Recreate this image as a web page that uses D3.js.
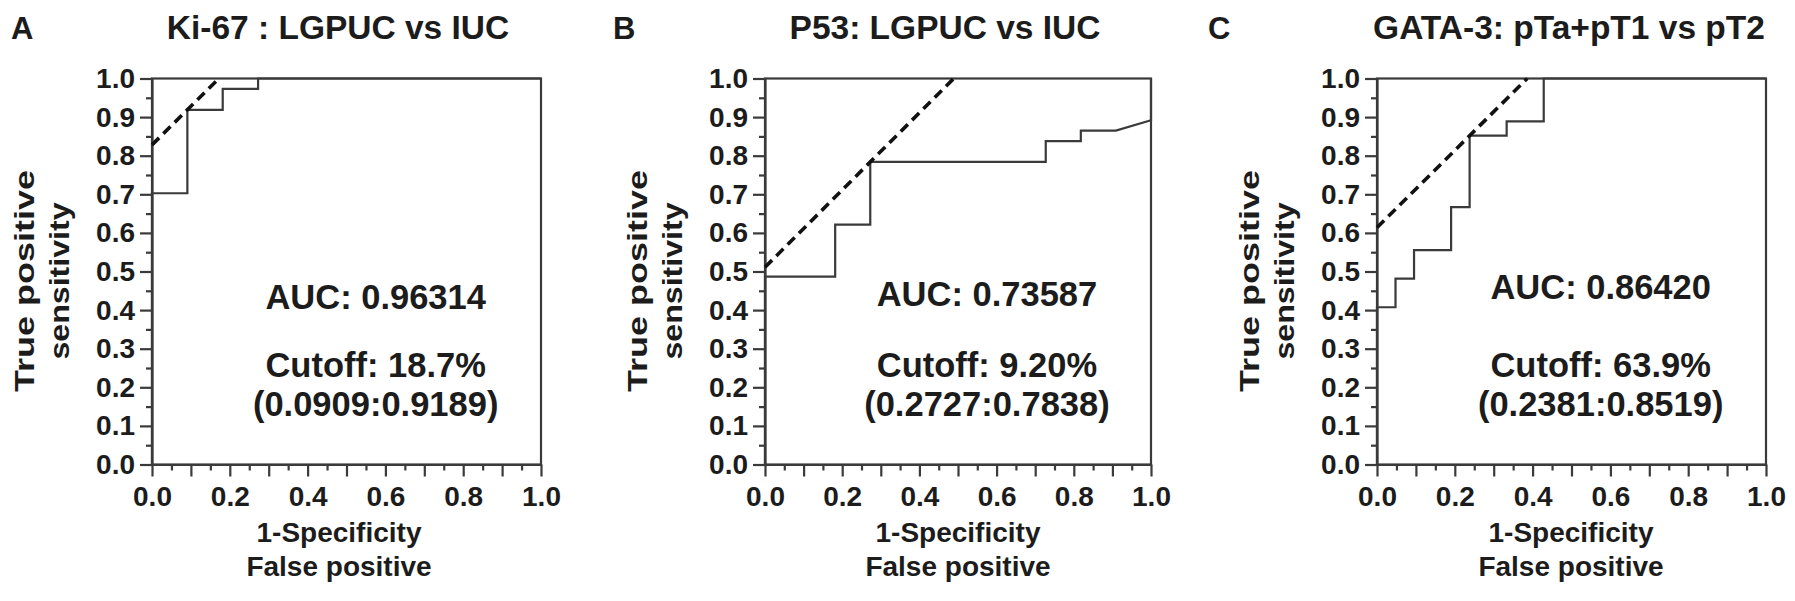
<!DOCTYPE html>
<html>
<head>
<meta charset="utf-8">
<script src="https://cdn.jsdelivr.net/npm/d3@7"></script>
<style>
  html, body { margin: 0; padding: 0; background: #fff; }
  svg { display: block; }
  text { font-family: "Liberation Sans", Arial, sans-serif; font-weight: bold; fill: #1c1c1c; }
</style>
</head>
<body>
<svg id="chart" width="1795" height="601"></svg>
<script>
// ---------------- DATA ----------------
const panelLetters = ["A", "B", "C"];
const panelTitles = ["Ki-67 : LGPUC vs IUC", "P53: LGPUC vs IUC", "GATA-3: pTa+pT1 vs pT2"];

// ROC curve points (1-specificity, sensitivity)
const rocA_fpr = [0, 0, 0.0909, 0.0909, 0.1818, 0.1818, 0.2727, 0.2727, 1.0];
const rocA_tpr = [0, 0.7027, 0.7027, 0.9189, 0.9189, 0.9730, 0.9730, 1.0, 1.0];

const rocB_fpr = [0, 0, 0.1818, 0.1818, 0.2727, 0.2727, 0.7273, 0.7273, 0.8182, 0.8182, 0.9091, 1.0, 1.0];
const rocB_tpr = [0, 0.4865, 0.4865, 0.6216, 0.6216, 0.7838, 0.7838, 0.8378, 0.8378, 0.8649, 0.8649, 0.8919, 1.0];

const rocC_fpr = [0, 0, 0.0476, 0.0476, 0.0952, 0.0952, 0.1905, 0.1905, 0.2381, 0.2381, 0.3333, 0.3333, 0.4286, 0.4286, 1.0];
const rocC_tpr = [0, 0.4074, 0.4074, 0.4815, 0.4815, 0.5556, 0.5556, 0.6667, 0.6667, 0.8519, 0.8519, 0.8889, 0.8889, 1.0, 1.0];

// optimal cut-off points (1-specificity : sensitivity)
const cutoffFpr = [0.0909, 0.2727, 0.2381];
const cutoffTpr = [0.9189, 0.7838, 0.8519];

const aucLabels = ["AUC: 0.96314", "AUC: 0.73587", "AUC: 0.86420"];
const cutoffLabels = ["Cutoff: 18.7%", "Cutoff: 9.20%", "Cutoff: 63.9%"];
const pairLabels = ["(0.0909:0.9189)", "(0.2727:0.7838)", "(0.2381:0.8519)"];

const majorTicks = [0, 0.1, 0.2, 0.3, 0.4, 0.5, 0.6, 0.7, 0.8, 0.9, 1.0];
const minorTicks = [0.05, 0.15, 0.25, 0.35, 0.45, 0.55, 0.65, 0.75, 0.85, 0.95];
const xTitleLines = ["1-Specificity", "False positive"];
const yTitleLines = ["True positive", "sensitivity"];

// ---------------- LAYOUT ----------------
const rocs = [
  { fpr: rocA_fpr, tpr: rocA_tpr },
  { fpr: rocB_fpr, tpr: rocB_tpr },
  { fpr: rocC_fpr, tpr: rocC_tpr }
];
const layout = [
  { left: 152, right: 541, titleX: 338, letterX: 11, xTitleX: 339, aucY: 309 },
  { left: 765, right: 1151, titleX: 945, letterX: 613, xTitleX: 958, aucY: 306 },
  { left: 1377, right: 1766, titleX: 1569, letterX: 1208, xTitleX: 1571, aucY: 299 }
];
const yTitleLengths = [222, 157];
const plotTop = 78.5, plotBottom = 464.5;
const lineColor = "#3a3a3a";

const svg = d3.select("#chart");
const fmt = d3.format(".1f");

layout.forEach((L, i) => {
  const x = d3.scaleLinear().domain([0, 1]).range([L.left, L.right]);
  const y = d3.scaleLinear().domain([0, 1]).range([plotBottom, plotTop]);
  const g = svg.append("g");

  // panel letter and title
  g.append("text").attr("x", L.letterX).attr("y", 39)
    .attr("font-size", 31).text(panelLetters[i]);
  g.append("text").attr("x", L.titleX).attr("y", 39)
    .attr("text-anchor", "middle").attr("font-size", 33.5).text(panelTitles[i]);

  // frame
  g.append("rect")
    .attr("x", x(0)).attr("y", y(1))
    .attr("width", x(1) - x(0)).attr("height", y(0) - y(1))
    .attr("fill", "none").attr("stroke", lineColor).attr("stroke-width", 2.2);

  // y axis
  const yAx = g.append("g").attr("transform", `translate(${x(0)},0)`)
    .call(d3.axisLeft(y).tickValues(majorTicks).tickSize(12).tickSizeOuter(0)
      .tickPadding(5).tickFormat(fmt));
  const yMin = g.append("g").attr("transform", `translate(${x(0)},0)`)
    .call(d3.axisLeft(y).tickValues(minorTicks).tickSize(6).tickFormat(""));
  yMin.select(".domain").remove();

  // x axis
  const xAx = g.append("g").attr("transform", `translate(0,${y(0)})`)
    .call(d3.axisBottom(x).tickValues(majorTicks).tickSize(12).tickSizeOuter(0)
      .tickPadding(10).tickFormat(d => (Math.round(d * 10) % 2 === 0 ? fmt(d) : "")));
  const xMin = g.append("g").attr("transform", `translate(0,${y(0)})`)
    .call(d3.axisBottom(x).tickValues(minorTicks).tickSize(6).tickFormat(""));
  xMin.select(".domain").remove();

  [yAx, yMin, xAx, xMin].forEach(a => {
    a.selectAll("path, line").attr("stroke", lineColor).attr("stroke-width", 2.2);
    a.selectAll("text").attr("font-size", 28).attr("fill", "#1c1c1c")
      .attr("font-family", "'Liberation Sans', Arial, sans-serif").attr("font-weight", "bold");
  });

  // ROC curve
  const pts = rocs[i].fpr.map((f, k) => [f, rocs[i].tpr[k]]);
  g.append("path").datum(pts)
    .attr("d", d3.line().x(d => x(d[0])).y(d => y(d[1])))
    .attr("fill", "none").attr("stroke", lineColor).attr("stroke-width", 2.2)
    .attr("stroke-linejoin", "miter");

  // tangent (Youden) dashed line through the cut-off point
  const b = cutoffTpr[i] - cutoffFpr[i];
  g.append("line")
    .attr("x1", x(0)).attr("y1", y(b))
    .attr("x2", x(1 - b)).attr("y2", y(1))
    .attr("stroke", "#111").attr("stroke-width", 3.6).attr("stroke-dasharray", "10,6");

  // annotations
  const cx = x(0.575);
  g.append("text").attr("x", cx).attr("y", L.aucY).attr("text-anchor", "middle")
    .attr("font-size", 34.5).text(aucLabels[i]);
  g.append("text").attr("x", cx).attr("y", 377).attr("text-anchor", "middle")
    .attr("font-size", 34.5).text(cutoffLabels[i]);
  g.append("text").attr("x", cx).attr("y", 416).attr("text-anchor", "middle")
    .attr("font-size", 34.5).text(pairLabels[i]);

  // axis titles
  xTitleLines.forEach((t, k) => {
    g.append("text").attr("x", L.xTitleX).attr("y", 542 + k * 34)
      .attr("text-anchor", "middle").attr("font-size", 28).text(t);
  });
  const yMid = 281;
  yTitleLines.forEach((t, k) => {
    const cxT = x(0) - 127.5 + k * 34.5;
    g.append("text")
      .attr("transform", `translate(${cxT},${yMid}) rotate(-90)`)
      .attr("text-anchor", "middle").attr("dy", "0.35em")
      .attr("font-size", 28)
      .attr("textLength", yTitleLengths[k]).attr("lengthAdjust", "spacingAndGlyphs")
      .text(t);
  });
});
</script>
</body>
</html>
